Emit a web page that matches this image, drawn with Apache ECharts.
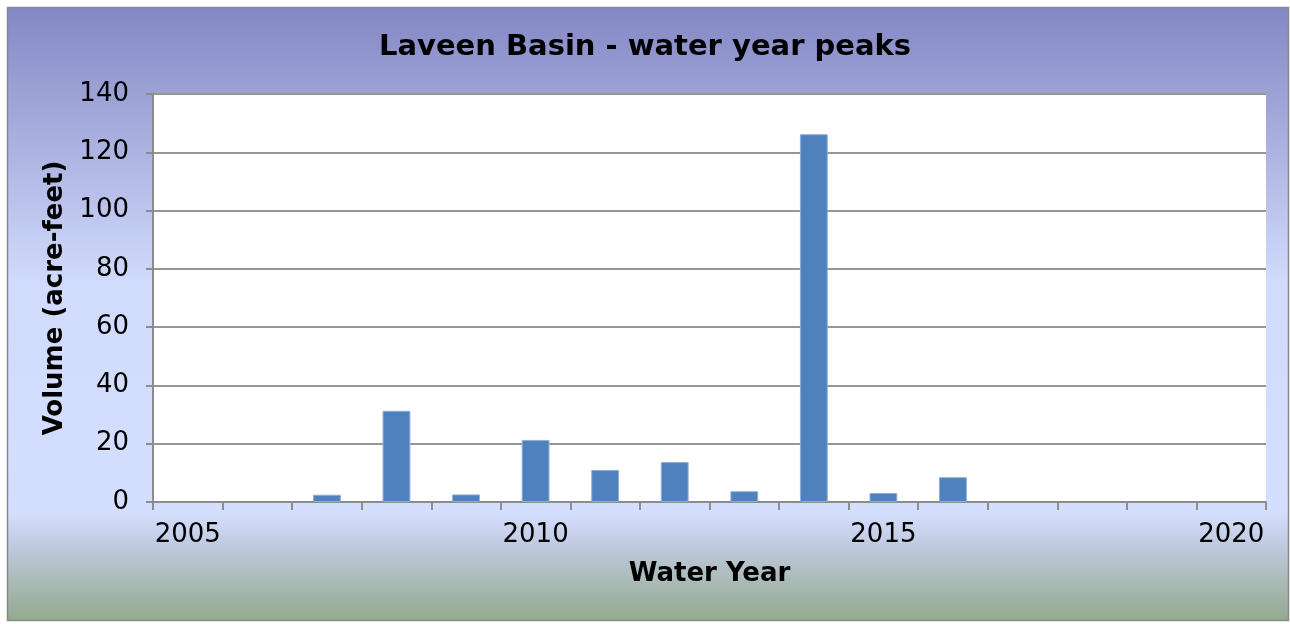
<!DOCTYPE html>
<html>
<head>
<meta charset="utf-8">
<script src="https://cdn.jsdelivr.net/npm/echarts@6/dist/echarts.min.js"></script>
<style>
  html, body { margin: 0; padding: 0; background: #fff; }
  #chart { width: 1290px; height: 624px; }
</style>
</head>
<body>
<div id="chart"></div>
<script>
  // 数据
  var years = ['2005', '2006', '2007', '2008', '2009', '2010', '2011', '2012',
               '2013', '2014', '2015', '2016', '2017', '2018', '2019', '2020'];
  var peaks = [null, null, 2.5, 31.3, 2.6, 21.3, 11.0, 13.7,
               3.7, 126.2, 3.1, 8.5, null, null, null, null];
  var yTicks = [0, 140, 20]; // min, max, interval

  var container = document.getElementById('chart');
  var myChart = echarts.init(container);

  var font = 'DejaVu Sans';

  myChart.setOption({
    animation: false,
    graphic: [
      {
        type: 'rect',
        z: -10,
        silent: true,
        shape: { x: 7.5, y: 7.5, width: 1281, height: 613 },
        style: {
          stroke: '#8a8a8a',
          lineWidth: 1.5,
          fill: new echarts.graphic.LinearGradient(0, 0, 0, 1, [
            { offset: 0, color: '#8487c4' },
            { offset: 0.45, color: '#d1dbfc' },
            { offset: 0.825, color: '#d4defe' },
            { offset: 0.875, color: '#c0cadf' },
            { offset: 1, color: '#93a98d' }
          ])
        }
      }
    ],
    title: {
      text: 'Laveen Basin - water year peaks',
      left: 'center',
      top: 28,
      textStyle: {
        fontFamily: font,
        fontSize: 29,
        fontWeight: 'bold',
        color: '#000'
      }
    },
    grid: {
      left: 153,
      top: 94,
      width: 1113,
      height: 408,
      show: true,
      backgroundColor: '#fff',
      borderWidth: 0
    },
    xAxis: {
      type: 'category',
      data: years,
      boundaryGap: true,
      name: 'Water Year',
      nameLocation: 'middle',
      nameGap: 59,
      nameTextStyle: { fontFamily: font, fontSize: 26, fontWeight: 'bold', color: '#000' },
      axisLine: { show: true, lineStyle: { color: '#8c8c8c', width: 2 } },
      axisTick: { show: true, interval: 0, length: 8, lineStyle: { color: '#8c8c8c', width: 2 } },
      axisLabel: { interval: 4, margin: 20, fontFamily: font, fontSize: 26, color: '#000' },
      splitLine: { show: false }
    },
    yAxis: {
      type: 'value',
      min: yTicks[0],
      max: yTicks[1],
      interval: yTicks[2],
      name: 'Volume (acre-feet)',
      nameLocation: 'middle',
      nameGap: 83,
      nameTextStyle: { fontFamily: font, fontSize: 26, fontWeight: 'bold', color: '#000' },
      axisLine: { show: true, lineStyle: { color: '#8c8c8c', width: 2 } },
      axisTick: { show: true, length: 7, lineStyle: { color: '#8c8c8c', width: 2 } },
      axisLabel: { margin: 24, fontFamily: font, fontSize: 26, color: '#000' },
      splitLine: { lineStyle: { color: '#969696', width: 2 } }
    },
    series: [
      {
        type: 'bar',
        data: peaks,
        barWidth: '40%',
        itemStyle: {
          color: '#4f81bd',
          borderColor: '#8eaedb',
          borderWidth: 1
        }
      }
    ]
  });
</script>
</body>
</html>
